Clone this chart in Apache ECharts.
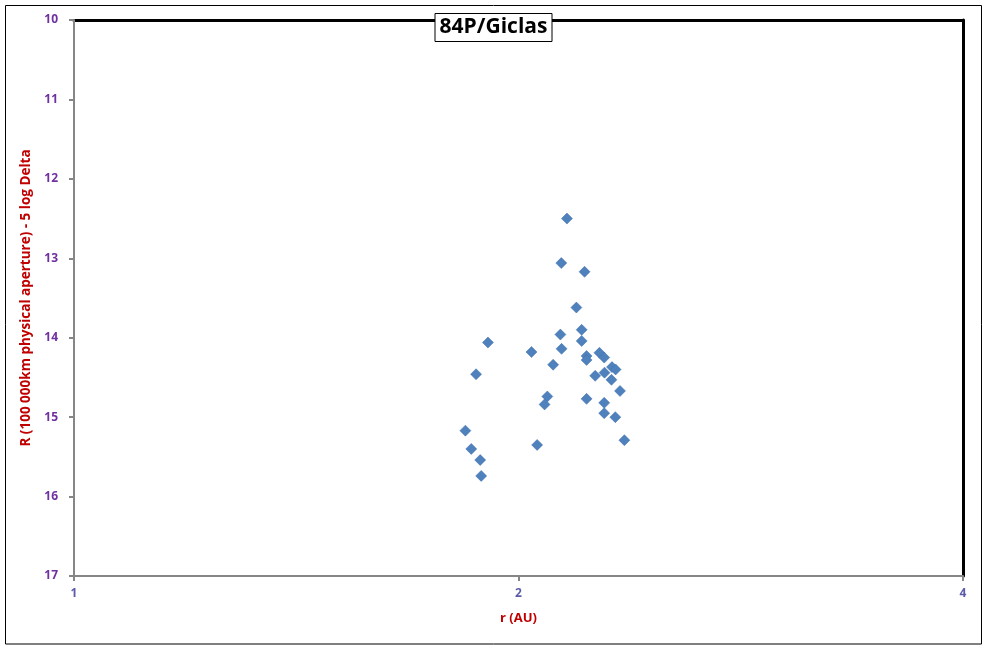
<!DOCTYPE html>
<html>
<head>
<meta charset="utf-8">
<script src="https://cdn.jsdelivr.net/npm/echarts@6/dist/echarts.min.js"></script>
<style>html,body{margin:0;padding:0;background:#fff;}#c{width:987px;height:648px;}</style>
</head>
<body>
<div id="c"></div>
<script>
const rValues = [2.157, 2.138, 2.217, 2.189, 2.207, 2.135, 2.207, 1.907, 2.041, 2.139,
  2.224, 2.224, 2.269, 2.286, 2.111, 1.872, 2.314, 2.327, 2.287, 2.254,
  2.312, 2.343, 2.092, 2.083, 2.224, 2.286, 2.286, 2.326, 1.841, 2.359,
  1.858, 2.059, 1.884, 1.887];
const magValues = [12.50, 13.06, 13.17, 13.62, 13.90, 13.96, 14.04, 14.06, 14.18, 14.14,
  14.23, 14.28, 14.19, 14.25, 14.34, 14.46, 14.37, 14.40, 14.44, 14.48,
  14.53, 14.67, 14.74, 14.84, 14.77, 14.82, 14.95, 15.00, 15.17, 15.29,
  15.40, 15.35, 15.54, 15.74];
const xTicks = [1, 2, 4];
const yTicks = [10, 11, 12, 13, 14, 15, 16, 17];
const chartTitle = '84P/Giclas';
const xTitle = 'r (AU)';
const yTitle = 'R (100 000km physical aperture) - 5 log Delta';

const data = rValues.map((r, i) => [r, magValues[i]]);
const chart = echarts.init(document.getElementById('c'), null, {renderer: 'canvas'});
const fontFam = '"Open Sans", "DejaVu Sans", sans-serif';
chart.setOption({
  animation: false,
  backgroundColor: '#fff',
  title: {
    text: chartTitle,
    left: 'center',
    top: 13,
    padding: [4, 5, 4, 5],
    backgroundColor: '#fff',
    borderColor: '#000',
    borderWidth: 1,
    z: 10,
    textStyle: {fontFamily: fontFam, fontWeight: 'bold', fontSize: 21, color: '#000'}
  },
  graphic: [{
    type: 'rect', shape: {x: 5.5, y: 5.5, width: 976, height: 638.5},
    style: {fill: null, stroke: '#000', lineWidth: 1}, z: -1
  }],
  grid: {left: 74, right: 24, top: 20, bottom: 72, containLabel: false},
  xAxis: [{
    type: 'log', logBase: 2, min: xTicks[0], max: xTicks[xTicks.length - 1],
    name: xTitle, nameLocation: 'middle', nameGap: 36,
    nameTextStyle: {color: '#C00000', fontWeight: 'bold', fontSize: 13, fontFamily: fontFam},
    axisLine: {show: true, onZero: false, lineStyle: {color: '#868686', width: 2}},
    axisTick: {show: true, length: 5, inside: false, lineStyle: {color: '#868686', width: 2}},
    minorTick: {show: false},
    splitLine: {show: false},
    z: 5,
    axisLabel: {color: '#5B5BAA', fontWeight: 'bold', fontSize: 12, fontFamily: fontFam, margin: 12,
      formatter: v => String(Math.round(v))}
  }, {
    type: 'value', position: 'top', min: 0, max: 1,
    axisLine: {show: true, onZero: false, lineStyle: {color: '#000', width: 3}},
    axisTick: {show: false}, axisLabel: {show: false}, splitLine: {show: false}
  }],
  yAxis: [{
    type: 'value', inverse: true, min: yTicks[0], max: yTicks[yTicks.length - 1], interval: 1,
    name: yTitle, nameLocation: 'middle', nameGap: 30,
    nameTextStyle: {color: '#C00000', fontWeight: 'bold', fontSize: 13.5, fontFamily: fontFam},
    axisLine: {show: true, onZero: false, lineStyle: {color: '#868686', width: 2}},
    axisTick: {show: true, length: 5, inside: false, lineStyle: {color: '#868686', width: 2}},
    splitLine: {show: false},
    z: 5,
    axisLabel: {color: '#7030A0', fontWeight: 'bold', fontSize: 12, fontFamily: fontFam, margin: 16}
  }, {
    type: 'value', position: 'right', min: 0, max: 1,
    axisLine: {show: true, onZero: false, lineStyle: {color: '#000', width: 3}},
    axisTick: {show: false}, axisLabel: {show: false}, splitLine: {show: false}
  }],
  series: [{
    type: 'scatter',
    xAxisIndex: 0, yAxisIndex: 0,
    symbol: 'diamond',
    symbolSize: 11,
    itemStyle: {color: '#4F81BD', borderColor: '#3F6FAA', borderWidth: 0.5, opacity: 1},
    data: data
  }]
});
</script>
</body>
</html>
